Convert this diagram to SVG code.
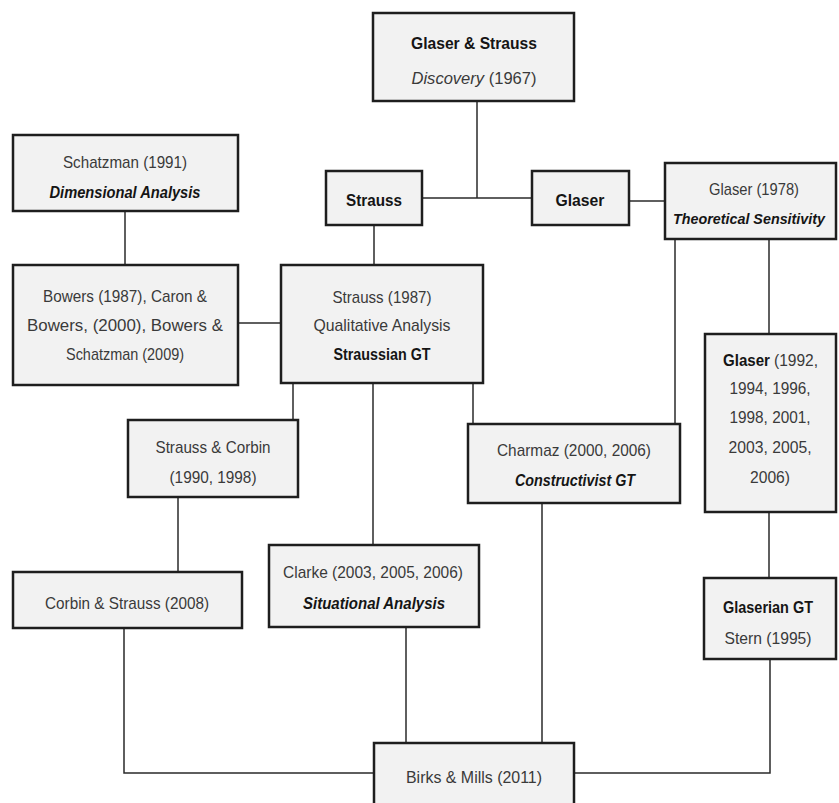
<svg xmlns="http://www.w3.org/2000/svg" width="839" height="803" viewBox="0 0 839 803">
<style>
.box{fill:#f2f2f2;stroke:#1e1e1e;stroke-width:2.5}
.t{font-family:"Liberation Sans",Arial,sans-serif;font-size:17px;fill:#3a3a3a;text-anchor:middle}
.s{text-anchor:start}
.b{font-weight:bold;fill:#151515}
.i{font-style:italic}
.sm{font-size:15px}
.conn line,.conn polyline{stroke:#2a2a2a;stroke-width:1.5;fill:none}
</style>
<rect width="839" height="803" fill="#ffffff"/>
<g class="conn" id="connectors">
<line x1="477" y1="101" x2="477" y2="198"/>
<line x1="422" y1="198" x2="532" y2="198"/>
<line x1="629" y1="201" x2="665" y2="201"/>
<line x1="125" y1="211" x2="125" y2="265"/>
<line x1="374" y1="225" x2="374" y2="265"/>
<line x1="238" y1="323" x2="281" y2="323"/>
<line x1="293" y1="383" x2="293" y2="420"/>
<line x1="473" y1="383" x2="473" y2="424"/>
<line x1="373" y1="383" x2="373" y2="545"/>
<line x1="675" y1="239" x2="675" y2="424"/>
<line x1="769" y1="239" x2="769" y2="334"/>
<line x1="178" y1="497" x2="178" y2="572"/>
<line x1="769" y1="512" x2="769" y2="578"/>
<polyline points="124,628 124,773 374,773"/>
<line x1="406" y1="627" x2="406" y2="743"/>
<line x1="542" y1="503" x2="542" y2="743"/>
<polyline points="770,659 770,773 574,773"/>
</g>
<g id="glaser-strauss">
<rect class="box" x="373" y="13" width="201" height="88"/>
<text class="t b" x="474" y="49" textLength="126" lengthAdjust="spacingAndGlyphs">Glaser &amp; Strauss</text>
<text class="t" x="474" y="84" textLength="125" lengthAdjust="spacingAndGlyphs"><tspan class="i">Discovery</tspan> (1967)</text>
</g>
<g id="schatzman">
<rect class="box" x="13" y="135" width="225" height="76"/>
<text class="t" x="125" y="168" textLength="124" lengthAdjust="spacingAndGlyphs">Schatzman (1991)</text>
<text class="t b i" x="125" y="198" textLength="151" lengthAdjust="spacingAndGlyphs">Dimensional Analysis</text>
</g>
<g id="bowers">
<rect class="box" x="13" y="265" width="225" height="120"/>
<text class="t" x="125" y="302" textLength="164" lengthAdjust="spacingAndGlyphs">Bowers (1987), Caron &amp;</text>
<text class="t" x="125" y="331" textLength="196" lengthAdjust="spacingAndGlyphs">Bowers, (2000), Bowers &amp;</text>
<text class="t" x="125" y="360" textLength="118" lengthAdjust="spacingAndGlyphs">Schatzman (2009)</text>
</g>
<g id="strauss">
<rect class="box" x="326" y="171" width="96" height="54"/>
<text class="t b" x="374" y="206" textLength="56" lengthAdjust="spacingAndGlyphs">Strauss</text>
</g>
<g id="strauss-1987">
<rect class="box" x="281" y="265" width="202" height="118"/>
<text class="t" x="382" y="303" textLength="99" lengthAdjust="spacingAndGlyphs">Strauss (1987)</text>
<text class="t" x="382" y="331" textLength="137" lengthAdjust="spacingAndGlyphs">Qualitative Analysis</text>
<text class="t b" x="382" y="360" textLength="97" lengthAdjust="spacingAndGlyphs">Straussian GT</text>
</g>
<g id="glaser">
<rect class="box" x="532" y="171" width="97" height="54"/>
<text class="t b" x="580" y="206" textLength="49" lengthAdjust="spacingAndGlyphs">Glaser</text>
</g>
<g id="glaser-1978">
<rect class="box" x="665" y="163" width="171" height="76"/>
<text class="t" x="754" y="195" textLength="90" lengthAdjust="spacingAndGlyphs">Glaser (1978)</text>
<text class="t b i sm" x="749" y="224" textLength="152" lengthAdjust="spacingAndGlyphs">Theoretical Sensitivity</text>
</g>
<g id="glaser-1992">
<rect class="box" x="705" y="334" width="131" height="178"/>
<text class="t s b" x="723" y="366" textLength="47" lengthAdjust="spacingAndGlyphs">Glaser</text>
<text class="t s" x="774" y="366" textLength="44" lengthAdjust="spacingAndGlyphs">(1992,</text>
<text class="t" x="770" y="394" textLength="81" lengthAdjust="spacingAndGlyphs">1994, 1996,</text>
<text class="t" x="770" y="423" textLength="81" lengthAdjust="spacingAndGlyphs">1998, 2001,</text>
<text class="t" x="770" y="453" textLength="83" lengthAdjust="spacingAndGlyphs">2003, 2005,</text>
<text class="t" x="770" y="483" textLength="40" lengthAdjust="spacingAndGlyphs">2006)</text>
</g>
<g id="strauss-corbin">
<rect class="box" x="128" y="420" width="170" height="77"/>
<text class="t" x="213" y="453" textLength="115" lengthAdjust="spacingAndGlyphs">Strauss &amp; Corbin</text>
<text class="t" x="213" y="483" textLength="87" lengthAdjust="spacingAndGlyphs">(1990, 1998)</text>
</g>
<g id="charmaz">
<rect class="box" x="468" y="424" width="212" height="79"/>
<text class="t" x="574" y="456" textLength="154" lengthAdjust="spacingAndGlyphs">Charmaz (2000, 2006)</text>
<text class="t b i" x="575" y="486" textLength="120" lengthAdjust="spacingAndGlyphs">Constructivist GT</text>
</g>
<g id="corbin-strauss">
<rect class="box" x="13" y="572" width="229" height="56"/>
<text class="t" x="127" y="609" textLength="164" lengthAdjust="spacingAndGlyphs">Corbin &amp; Strauss (2008)</text>
</g>
<g id="clarke">
<rect class="box" x="269" y="545" width="210" height="82"/>
<text class="t" x="373" y="578" textLength="180" lengthAdjust="spacingAndGlyphs">Clarke (2003, 2005, 2006)</text>
<text class="t b i" x="374" y="609" textLength="142" lengthAdjust="spacingAndGlyphs">Situational Analysis</text>
</g>
<g id="glaserian">
<rect class="box" x="704" y="578" width="132" height="81"/>
<text class="t b" x="768" y="613" textLength="90" lengthAdjust="spacingAndGlyphs">Glaserian GT</text>
<text class="t" x="768" y="644" textLength="87" lengthAdjust="spacingAndGlyphs">Stern (1995)</text>
</g>
<g id="birks-mills">
<rect class="box" x="374" y="743" width="200" height="75"/>
<text class="t" x="474" y="783" textLength="136" lengthAdjust="spacingAndGlyphs">Birks &amp; Mills (2011)</text>
</g>
</svg>
